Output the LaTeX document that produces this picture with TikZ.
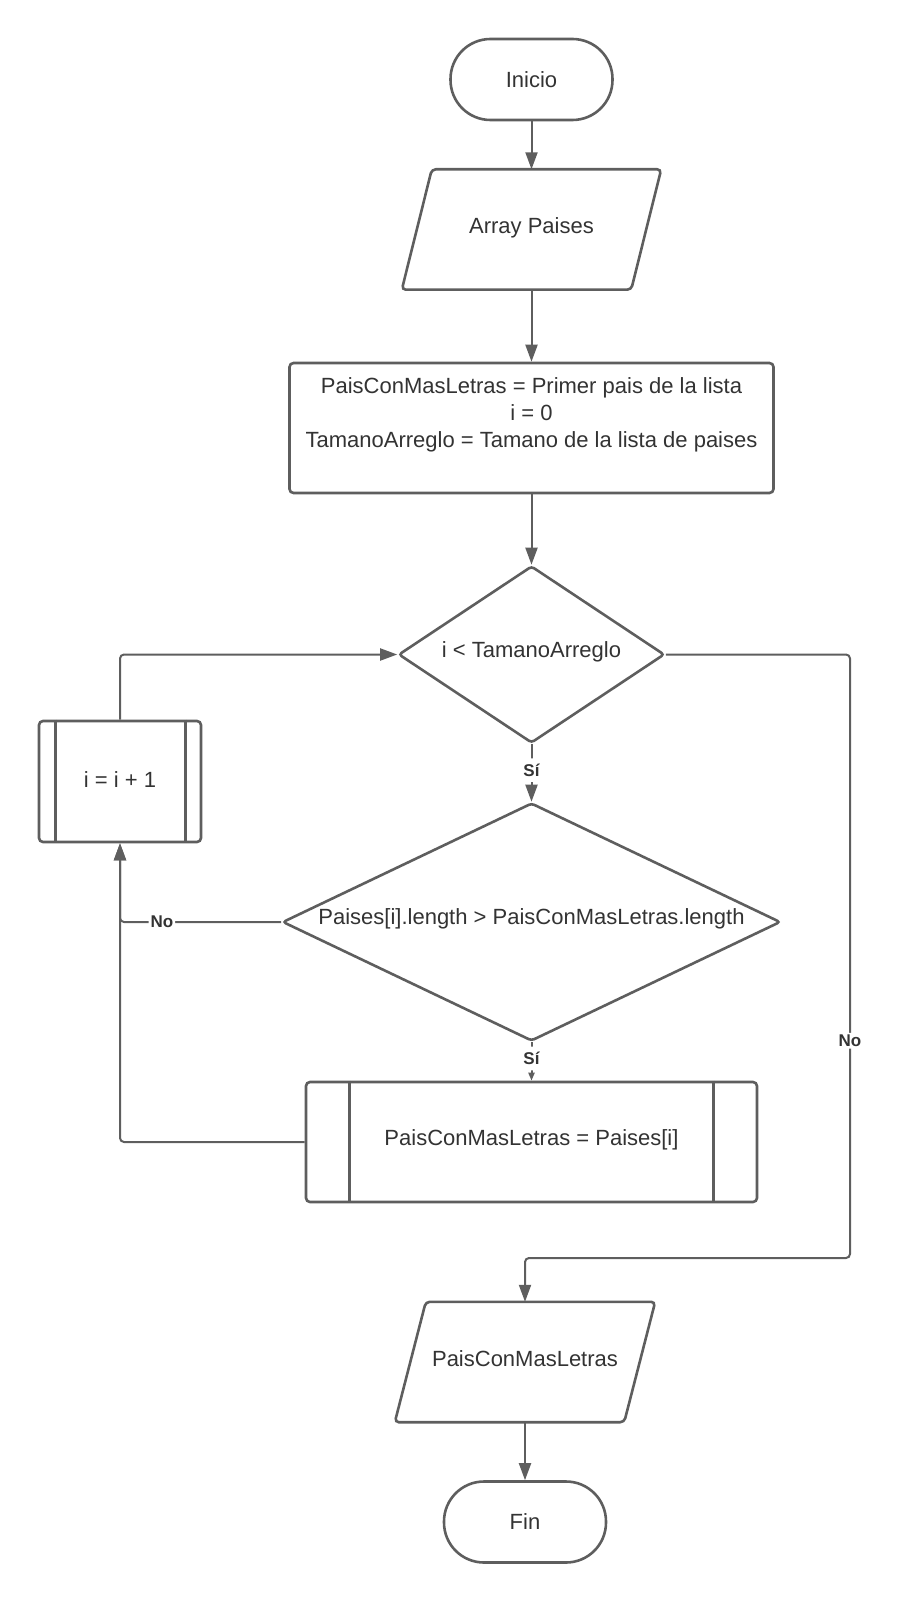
\documentclass[tikz,border=0pt]{standalone}
\usepackage{fontspec}
\setmainfont{Liberation Sans}
\usetikzlibrary{shapes.geometric,arrows.meta,calc}
\definecolor{linegray}{HTML}{5E5E5E}
\definecolor{textgray}{HTML}{333333}

\begin{document}
\begin{tikzpicture}[x=1pt,y=-1pt,
  outline/.style={draw=linegray, line width=2.6pt, fill=white, inner sep=0pt},
  edge/.style={draw=linegray, line width=2.6pt},
  txt/.style={text=textgray, font=\fontsize{22pt}{27pt}\selectfont, inner sep=0pt, align=center},
  terminal/.style={outline, rectangle, rounded corners=40pt, minimum width=162pt, minimum height=81pt},
  iobox/.style={rectangle, inner sep=0pt, minimum width=229pt, minimum height=120pt},
  procbox/.style={outline, rectangle, rounded corners=4pt},
  decision/.style={outline, diamond, rounded corners=3pt},
  conn/.style={draw=linegray, line width=2pt, rounded corners=4pt},
  arrow/.style={conn, -{Triangle[length=17pt,width=12pt]}},
  smallarrow/.style={conn, -{Triangle[length=8pt,width=6pt]}},
  lbl/.style={fill=white, text=textgray, font=\bfseries\fontsize{17pt}{20pt}\selectfont, inner xsep=2pt, inner ysep=2pt},
  lblv/.style={lbl, inner ysep=5.5pt}]

\useasboundingbox (0,0) rectangle (902,1602);

% main column
\node[terminal] (inicio) at (531.5,79.5) {};
\node[txt] (inicio-t) at (inicio) {Inicio};

\node[iobox] (array) at (531.5,229.5) {};
\draw[edge, rounded corners=4pt]
  ($(array.south west)+(-15pt,0)$) -- ($(array.north west)+(15pt,0)$) --
  ($(array.north east)+(15pt,0)$) -- ($(array.south east)+(-15pt,0)$) -- cycle;
\node[txt] (array-t) at (531.5,228) {Array Paises};

\node[procbox, minimum width=484pt, minimum height=130pt] (init) at (531.5,428) {};
\node[txt] (init-t) at (531.5,415) {PaisConMasLetras = Primer pais de la lista\\ i = 0\\ TamanoArreglo = Tamano de la lista de paises};

\node[decision, minimum width=266pt, minimum height=177pt] (cond) at (531.5,654.5) {};
\node[txt] (cond-t) at (531.5,652) {i < TamanoArreglo};

\node[decision, minimum width=498pt, minimum height=238pt] (cmp) at (531.5,922) {};
\node[txt] (cmp-t) at (531.5,919) {Paises[i].length > PaisConMasLetras.length};

\node[procbox, minimum width=451pt, minimum height=120pt] (assign) at (531.5,1142) {};
\draw[edge] ($(assign.north west)+(45pt,0)$) -- ($(assign.south west)+(45pt,0)$);
\draw[edge] ($(assign.north east)+(-45pt,0)$) -- ($(assign.south east)+(-45pt,0)$);
\node[txt] (assign-t) at (531.5,1140) {PaisConMasLetras = Paises[i]};

\node[procbox, minimum width=162pt, minimum height=121pt] (incr) at (120,781.5) {};
\draw[edge] ($(incr.north west)+(18pt,0)$) -- ($(incr.south west)+(18pt,0)$);
\draw[edge] ($(incr.north east)+(-17pt,0)$) -- ($(incr.south east)+(-17pt,0)$);
\node[txt] (incr-t) at (120,779.5) {i = i + 1};

\node[iobox] (result) at (525,1362) {};
\draw[edge, rounded corners=4pt]
  ($(result.south west)+(-15.5pt,0)$) -- ($(result.north west)+(15.5pt,0)$) --
  ($(result.north east)+(15.5pt,0)$) -- ($(result.south east)+(-15.5pt,0)$) -- cycle;
\node[txt] (result-t) at (525,1359) {PaisConMasLetras};

\node[terminal] (fin) at (525,1522) {};
\node[txt] (fin-t) at (fin) {Fin};

\coordinate (rightrail) at (850,1258);

% connectors
\draw[arrow] (inicio.south) -- (array.north);
\draw[arrow] (array.south) -- (init.north);
\draw[arrow] (init.south) -- (cond.north);
\draw[arrow] (cond.south) -- node[lblv, pos=0.45] (si1) {Sí} (cmp.north);
\draw[smallarrow] (cmp.south) -- node[lblv, pos=0.42] (si2) {Sí} (assign.north);
\draw[arrow] (assign.west) -| (incr.south);
\draw[arrow] (cmp.west) -| node[lbl, pos=0.37] (no1) {No} (incr.south);
\draw[arrow] (incr.north) |- (cond.west);
\draw[arrow] (cond.east) -| node[lbl, pos=0.82] (no2) {No} (rightrail) -| (result.north);
\draw[arrow] (result.south) -- (fin.north);

\end{tikzpicture}
\end{document}
